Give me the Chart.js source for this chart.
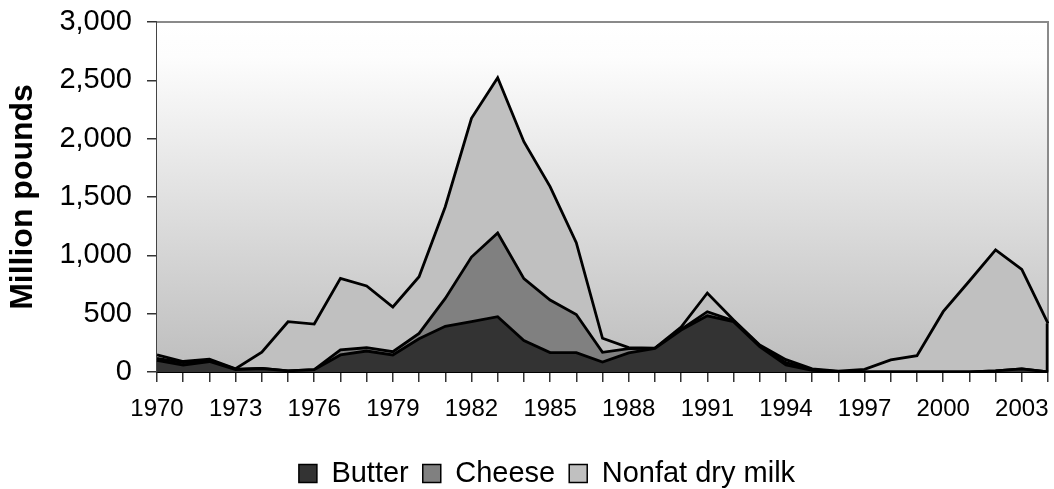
<!DOCTYPE html>
<html>
<head>
<meta charset="utf-8">
<script src="https://cdn.jsdelivr.net/npm/chart.js@4"></script>
<style>
  html, body { margin: 0; padding: 0; background: #ffffff; }
  #wrap { width: 1054px; height: 489px; }
</style>
</head>
<body>
<div id="wrap"><canvas id="c" width="1054" height="489"></canvas></div>
<script>
const years = [];
for (let y = 1970; y <= 2004; y++) years.push(String(y));

const butter = [100, 60, 90, 20, 30, 10, 20, 146, 180, 146, 285, 392, 431, 474, 269, 166, 166, 85, 163, 203, 360, 482, 431, 217, 60, 15, 0, 0, 0, 0, 0, 0, 10, 26, 0];
const cheese = [17, 20, 10, 5, 0, 0, 0, 43, 28, 28, 46, 239, 554, 718, 531, 451, 327, 84, 37, 0, 5, 35, 9, 5, 20, 5, 3, 0, 0, 0, 0, 0, 0, 0, 0];
const nonfatDryMilk = [29, 10, 9, 3, 139, 421, 391, 614, 529, 383, 486, 786, 1189, 1331, 1174, 972, 615, 120, 9, 2, 20, 160, 6, 9, 26, 7, 5, 23, 103, 140, 517, 780, 1036, 854, 417];

const yTicks = [0, 500, 1000, 1500, 2000, 2500, 3000];

const FONT = "'Liberation Sans', Arial, sans-serif";

const plotDecor = {
  id: 'plotDecor',
  afterLayout(chart) {
    if (chart.legend) {
      chart.legend.left += 23;
      chart.legend.right += 23;
    }
  },
  beforeDatasetsDraw(chart) {
    const {ctx, chartArea: a} = chart;
    ctx.save();
    const g = ctx.createLinearGradient(0, a.top, 0, a.bottom);
    g.addColorStop(0, '#ffffff');
    g.addColorStop(0.1, '#fdfdfd');
    g.addColorStop(1, '#bdbdbd');
    ctx.fillStyle = g;
    ctx.fillRect(a.left, a.top, a.right - a.left, a.bottom - a.top);
    ctx.strokeStyle = '#8a8a8a';
    ctx.lineWidth = 2;
    ctx.beginPath();
    ctx.moveTo(a.left, a.top);
    ctx.lineTo(a.right, a.top);
    ctx.lineTo(a.right, a.bottom);
    ctx.stroke();
    ctx.restore();
  },
  afterDatasetsDraw(chart) {
    const {ctx} = chart;
    const xs = chart.scales.x, ys = chart.scales.y;
    const last = years.length - 1;
    const total = butter[last] + cheese[last] + nonfatDryMilk[last];
    const px = xs.getPixelForValue(last);
    ctx.save();
    ctx.strokeStyle = '#000';
    ctx.lineWidth = 2.5;
    ctx.beginPath();
    ctx.moveTo(px - 1, ys.getPixelForValue(total));
    ctx.lineTo(px - 1, ys.getPixelForValue(0));
    ctx.stroke();
    ctx.restore();
  }
};

const ds = (label, data, bg, fill) => ({
  label, data,
  backgroundColor: bg,
  borderColor: '#000000',
  borderWidth: 2.8,
  fill,
  tension: 0,
  pointRadius: 0,
  pointHoverRadius: 0,
  borderJoinStyle: 'miter'
});

new Chart(document.getElementById('c'), {
  type: 'line',
  data: {
    labels: years,
    datasets: [
      ds('Butter', butter, '#333333', 'origin'),
      ds('Cheese', cheese, '#808080', '-1'),
      ds('Nonfat dry milk', nonfatDryMilk, '#c0c0c0', '-1')
    ]
  },
  plugins: [plotDecor],
  options: {
    responsive: false,
    animation: false,
    events: [],
    layout: { padding: { left: 0, right: 6, top: 22, bottom: -9 } },
    plugins: {
      tooltip: { enabled: false },
      legend: {
        position: 'bottom',
        labels: {
          boxWidth: 18,
          boxHeight: 18,
          padding: 14,
          color: '#000',
          font: { family: FONT, size: 29 },
          generateLabels(chart) {
            return chart.data.datasets.map((d, i) => ({
              text: d.label,
              fillStyle: d.backgroundColor,
              strokeStyle: '#000',
              lineWidth: 1.5,
              datasetIndex: i,
              hidden: false
            }));
          }
        }
      }
    },
    scales: {
      x: {
        type: 'category',
        offset: false,
        grid: { drawOnChartArea: false, drawTicks: true, tickLength: 10, color: '#333', lineWidth: 1.5 },
        border: { display: true, color: '#000', width: 2 },
        ticks: {
          autoSkip: false,
          maxRotation: 0,
          minRotation: 0,
          padding: 13,
          color: '#000',
          font: { family: FONT, size: 24 },
          callback(v, i) { return (i % 3 === 0) ? years[i] : ''; }
        },
        afterFit(scale) { scale.height = 73; scale.paddingLeft = 0; scale.paddingRight = 0; }
      },
      y: {
        stacked: true,
        min: 0,
        max: 3000,
        afterBuildTicks(scale) { scale.ticks = yTicks.map(v => ({ value: v })); },
        grid: { drawOnChartArea: false, drawTicks: true, tickLength: 10, color: '#333', lineWidth: 1.5 },
        border: { display: true, color: '#444', width: 1.5 },
        ticks: {
          padding: 15,
          color: '#000',
          font: { family: FONT, size: 29 },
          callback(v) { return v.toLocaleString('en-US'); }
        },
        title: {
          display: true,
          text: 'Million pounds',
          color: '#000',
          font: { family: FONT, size: 32, weight: 'bold' },
          padding: { top: 4, bottom: 0 }
        },
        afterFit(scale) { scale.width = 157; scale.paddingTop = 0; scale.paddingBottom = 0; }
      }
    }
  }
});
</script>
</body>
</html>
